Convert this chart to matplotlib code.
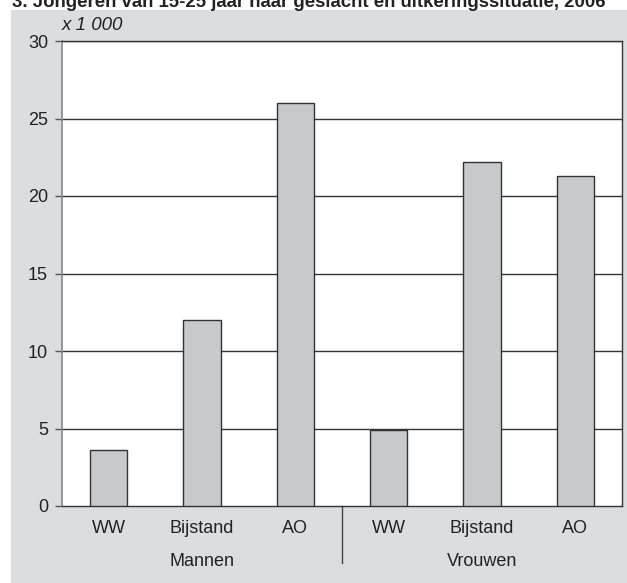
import matplotlib.pyplot as plt
from matplotlib.patches import Rectangle

plt.rcParams["font.family"] = ["Liberation Sans", "DejaVu Sans"]

groups = ["Mannen", "Vrouwen"]
categories = ["WW", "Bijstand", "AO"]
mannen = [3.6, 12.0, 26.0]
vrouwen = [4.9, 22.2, 21.3]
yticks = [0, 5, 10, 15, 20, 25, 30]

W, H = 627, 583
fig = plt.figure(figsize=(W / 100, H / 100), dpi=100)
fig.patch.set_facecolor("white")

# grey panel behind the chart
fig.patches.append(Rectangle((11 / W, 0), 1 - 11 / W, 1 - 10 / H, transform=fig.transFigure,
                             facecolor="#dcdddf", edgecolor="none", zorder=-5))
fig.text(12 / W, 1 - 7 / H, "3. Jongeren van 15-25 jaar naar geslacht en uitkeringssituatie, 2006",
         fontsize=13.4, fontweight="bold", va="baseline", ha="left", color="#222222")

ax = fig.add_axes([62 / W, 77 / H, 560 / W, 465 / H])
ax.set_facecolor("white")

values = mannen + vrouwen
xs = [i + 0.5 for i in range(len(values))]
ax.bar(xs, values, width=0.4, color="#c8c9cb", edgecolor="#333333", linewidth=1.0, zorder=3)

ax.set_xlim(0, 6)
ax.set_ylim(0, 30)
ax.set_yticks(yticks)
ax.set_yticklabels([str(v) for v in yticks], fontsize=13, color="#222222")
for v in yticks[1:]:
    ax.axhline(v, color="#333333", linewidth=1.0, zorder=1)

ax.set_xticks(xs)
ax.set_xticklabels(categories * 2, fontsize=13, color="#222222")
ax.tick_params(axis="x", length=0, pad=10)
ax.tick_params(axis="y", length=5, width=1.0, color="#555555", pad=5)

for s in ["top", "right"]:
    ax.spines[s].set_color("#333333")
    ax.spines[s].set_linewidth(1.0)
ax.spines["left"].set_color("#888888")
ax.spines["left"].set_linewidth(1.2)
ax.spines["bottom"].set_color("#333333")
ax.spines["bottom"].set_linewidth(1.0)

# group labels and separator
for i, g in enumerate(groups):
    ax.text(1.5 + 3 * i, -0.119, g, transform=ax.get_xaxis_transform(), ha="center", va="center",
            fontsize=13, color="#222222")
ax.plot([3, 3], [0, -0.123], transform=ax.get_xaxis_transform(), color="#444444",
        linewidth=1.0, clip_on=False)

ax.text(0, 1.033, "x 1 000", transform=ax.transAxes, fontsize=13.5, style="italic",
        ha="left", va="center", color="#222222")

fig.savefig("out.png", dpi=100)
